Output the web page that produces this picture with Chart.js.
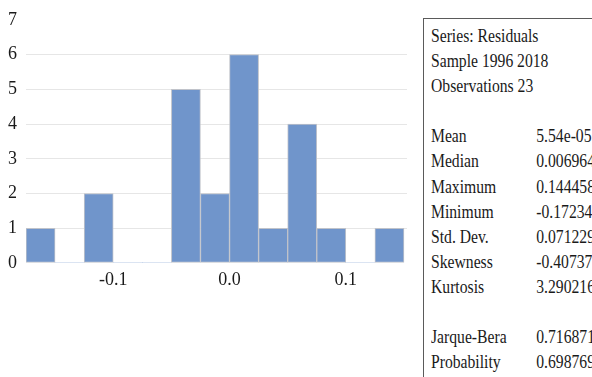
<!DOCTYPE html>
<html>
<head>
<meta charset="utf-8">
<script src="https://cdn.jsdelivr.net/npm/chart.js@4"></script>
<style>
  html, body { margin: 0; padding: 0; background: #fff; overflow: hidden; }
  #wrap { position: relative; width: 592px; height: 377px; }
  #chart { position: absolute; left: 0; top: 0; }
  .statbox {
    position: absolute; left: 423px; top: 18px; width: 300px; height: 420px;
    border: 1px solid #5a5a5a; background: #fff;
  }
  .stattext {
    position: absolute; left: 7px; top: 5px;
    font-family: "Liberation Serif", "Times New Roman", serif; font-size: 18px;
    line-height: 25.1px; color: #1a1a1a; white-space: nowrap;
    transform: scale(0.87, 1); transform-origin: 0 0;
  }
  .stattext .lbl { display: inline-block; width: 121px; }
</style>
</head>
<body>
<div id="wrap">
  <canvas id="chart" width="592" height="377"></canvas>
  <div class="statbox"><div class="stattext" id="stats"></div></div>
</div>
<script>
// histogram of residuals, bin width 0.025
var binCenters = [-0.1625, -0.1375, -0.1125, -0.0875, -0.0625, -0.0375, -0.0125,
                  0.0125, 0.0375, 0.0625, 0.0875, 0.1125, 0.1375];
var counts = [1, 0, 2, 0, 0, 5, 2, 6, 1, 4, 1, 0, 1];
var xTickValues = [-0.1, 0.0, 0.1];
var yTickValues = [0, 1, 2, 3, 4, 5, 6, 7];

var headerLines = ['Series: Residuals', 'Sample 1996 2018', 'Observations 23'];
var statLabels = ['Mean', 'Median', 'Maximum', 'Minimum', 'Std. Dev.', 'Skewness', 'Kurtosis'];
var statValues = ['5.54e-05', '0.006964', '0.144458', '-0.172341', '0.071229', '-0.407374', '3.290216'];
var testLabels = ['Jarque-Bera', 'Probability'];
var testValues = ['0.716871', '0.698769'];

// stats box text
var html = '';
headerLines.forEach(function (t) { html += '<div>' + t + '</div>'; });
html += '<div>&nbsp;</div>';
statLabels.forEach(function (t, i) {
  html += '<div><span class="lbl">' + t + '</span>' + statValues[i] + '</div>';
});
html += '<div>&nbsp;</div>';
testLabels.forEach(function (t, i) {
  html += '<div><span class="lbl">' + t + '</span>' + testValues[i] + '</div>';
});
document.getElementById('stats').innerHTML = html;

var points = binCenters.map(function (c, i) { return { x: c, y: counts[i] }; });

function drawChart() {
  const ctx = document.getElementById('chart');
  const histChart = new Chart(ctx, {
    type: 'bar',
    data: {
      datasets: [{
        data: points,
        backgroundColor: '#7095cb',
        borderColor: function (c) { return c.raw && c.raw.y > 0 ? '#c0c3ca' : 'rgba(0,0,0,0)'; },
        borderWidth: function (c) { return c.raw && c.raw.y > 0 ? 1 : 0; },
        borderSkipped: false,
        barPercentage: 1,
        categoryPercentage: 1
      }]
    },
    options: {
      responsive: false,
      animation: false,
      layout: { padding: { left: 0, right: 185, top: 18, bottom: 0 } },
      plugins: { legend: { display: false }, tooltip: { enabled: false } },
      scales: {
        x: {
          type: 'linear',
          min: -0.175,
          max: 0.1526,
          offset: false,
          border: { display: false },
          grid: { display: false, drawTicks: false, offset: false },
          afterBuildTicks: function (scale) {
            scale.ticks = xTickValues.map(function (v) { return { value: v }; });
          },
          afterFit: function (scale) { scale.height = 114; },
          ticks: {
            padding: 6,
            color: '#1a1a1a',
            font: { family: '"Liberation Serif"', size: 18 },
            callback: function (v) { return Number(v).toFixed(1); }
          }
        },
        y: {
          min: 0,
          max: 7,
          border: { display: false },
          afterBuildTicks: function (scale) {
            scale.ticks = yTickValues.map(function (v) { return { value: v }; });
          },
          afterFit: function (scale) { scale.width = 26; },
          grid: {
            drawTicks: false,
            color: function (c) {
              return (c.tick && (c.tick.value === 0 || c.tick.value === 7)) ? 'rgba(0,0,0,0)' : '#e6e6e6';
            }
          },
          ticks: {
            padding: 9,
            color: '#1a1a1a',
            font: { family: '"Liberation Serif"', size: 18 }
          }
        }
      }
    }
  });
}

document.fonts.load('18px "Liberation Serif"').then(drawChart, drawChart);
</script>
</body>
</html>
